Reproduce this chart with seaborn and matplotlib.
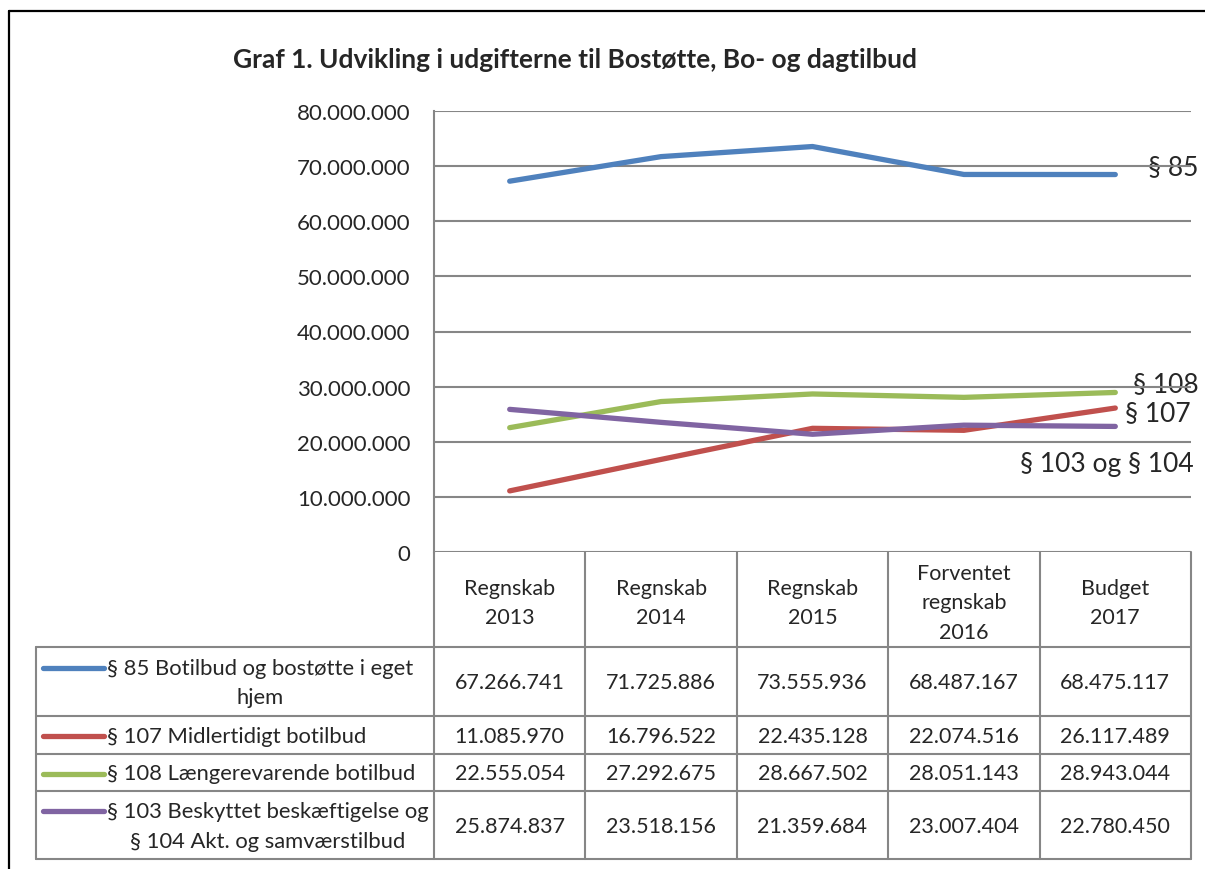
#! /usr/bin/env python3

import pandas as pd
import matplotlib as mpl
mpl.use('agg')
import matplotlib.pyplot as plt
import seaborn as sns
from matplotlib.lines import Line2D

sns.set_theme(style='white')
plt.rcParams['font.family'] = ['Lato', 'DejaVu Sans']

# --- data
categories = ['Regnskab\n2013', 'Regnskab\n2014', 'Regnskab\n2015',
              'Forventet\nregnskab\n2016', 'Budget\n2017']
series_names = ['§ 85 Botilbud og bostøtte i eget\nhjem',
                '§ 107 Midlertidigt botilbud',
                '§ 108 Længerevarende botilbud',
                '§ 103 Beskyttet beskæftigelse og\n§ 104 Akt. og samværstilbud']
short_names = ['§ 85', '§ 107', '§ 108', '§ 103 og § 104']
s85 = [67266741, 71725886, 73555936, 68487167, 68475117]
s107 = [11085970, 16796522, 22435128, 22074516, 26117489]
s108 = [22555054, 27292675, 28667502, 28051143, 28943044]
s103 = [25874837, 23518156, 21359684, 23007404, 22780450]
series_values = [s85, s107, s108, s103]
colors = ['#4F81BD', '#C0504D', '#9BBB59', '#8064A2']
y_ticks = list(range(0, 80000001, 10000000))


def fmt(v):
    return f'{v:,}'.replace(',', '.')


rows = []
for name, vals in zip(series_names, series_values):
    for i, v in enumerate(vals):
        rows.append({'pos': i, 'value': v, 'series': name})
df = pd.DataFrame(rows)

W, H = 1205, 870
fig = plt.figure(figsize=(W / 100, H / 100), dpi=100)
fig.patch.set_facecolor('white')


def fx(x):
    return x / W


def fy(y):
    return 1 - y / H


# --- plot area
left, right, top, bottom = 434, 1191, 112, 553
ax = fig.add_axes([fx(left), fy(bottom), fx(right - left), (bottom - top) / H])
sns.lineplot(data=df, x='pos', y='value', hue='series', sort=False,
             palette=dict(zip(series_names, colors)), linewidth=3.8,
             legend=False, ax=ax, solid_capstyle='round')
ax.set_xlim(-0.5, len(categories) - 0.5)
ax.set_ylim(0, 80000000)
ax.set_yticks(y_ticks)
ax.set_yticklabels([fmt(t) for t in y_ticks], fontsize=16)
ax.set_xticks([])
ax.set_xlabel('')
ax.set_ylabel('')
ax.tick_params(axis='y', length=0, pad=17)
ax.yaxis.grid(True, color='#868686', linewidth=1.5)
ax.set_axisbelow(True)
for sp in ['top', 'right', 'bottom']:
    ax.spines[sp].set_visible(False)
ax.spines['left'].set_color('#868686')
ax.spines['left'].set_linewidth(1.5)
ax.patch.set_alpha(0)

# --- overlay in pixel coords: table, title, labels, frame
tax = fig.add_axes([0, 0, 1, 1], zorder=-1)
tax.set_xlim(0, W)
tax.set_ylim(H, 0)
tax.axis('off')

grid_kw = dict(color='#868686', linewidth=1.5)
col_edges = [left + (right - left) * i / len(categories) for i in range(len(categories) + 1)]
row_edges = [648, 717, 755, 792, 860]
tab_left = 36

for x in col_edges:
    tax.plot([x, x], [bottom, row_edges[-1]], **grid_kw)
tax.plot([tab_left, tab_left], [row_edges[0], row_edges[-1]], **grid_kw)
for y in row_edges:
    tax.plot([tab_left, right], [y, y], **grid_kw)

for i, cat in enumerate(categories):
    cx = (col_edges[i] + col_edges[i + 1]) / 2
    tax.text(cx, (bottom + row_edges[0]) / 2 + 3, cat, ha='center', va='center',
             fontsize=15.5, linespacing=1.62)

for r, (name, vals, c) in enumerate(zip(series_names, series_values, colors)):
    y0, y1 = row_edges[r], row_edges[r + 1]
    cy = (y0 + y1) / 2 + 1
    n_lines = name.count('\n') + 1
    sample_y = cy - 15 if n_lines > 1 else cy
    tax.plot([43, 104], [sample_y, sample_y], color=c, linewidth=3.8,
             solid_capstyle='round')
    tax.text(107, cy, name, ha='left', va='center', multialignment='center',
             fontsize=15.8, linespacing=1.6)
    for i, v in enumerate(vals):
        cx = (col_edges[i] + col_edges[i + 1]) / 2
        tax.text(cx, cy, fmt(v), ha='center', va='center', fontsize=15.5)

tax.text(575, 60, 'Graf 1. Udvikling i udgifterne til Bostøtte, Bo- og dagtilbud',
         ha='center', va='center', fontsize=19, fontweight='bold')

label_pos = [(1148, 168), (1125, 414), (1133, 385), (1020, 465)]
for (x, y), lab in zip(label_pos, short_names):
    tax.text(x, y, lab, ha='left', va='center', fontsize=19)

# --- outer frame
fig.add_artist(Line2D([fx(9), fx(9)], [fy(12), 0], color='black', linewidth=1.6))
fig.add_artist(Line2D([fx(9), 1], [fy(12), fy(12)], color='black', linewidth=1.6))

plt.savefig('out.png', dpi=100)
plt.close(fig)
